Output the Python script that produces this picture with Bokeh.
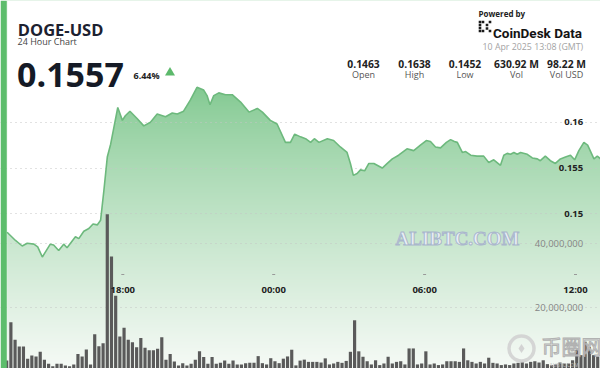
import numpy as np
import pandas as pd
from bokeh.plotting import figure
from bokeh.models import Range1d, Grid, FixedTicker, BoxAnnotation
from bokeh.core.properties import value
from bokeh.embed import file_html
from bokeh.resources import INLINE

# ---------------- data ----------------
symbol = "DOGE-USD"
subtitle = "24 Hour Chart"
last_price = "0.1557"
change_pct = "6.44%"
stat_values = ["0.1463", "0.1638", "0.1452", "630.92 M", "98.22 M"]
stat_labels = ["Open", "High", "Low", "Vol", "Vol USD"]
timestamp_text = "10 Apr 2025 13:08 (GMT)"

price_clock = [
    "13:24", "13:44", "14:00", "14:12", "14:28", "14:37", "14:48", "15:07", "15:15", "15:27",
    "15:39", "15:47", "16:07", "16:15", "16:27", "16:39", "16:49", "16:59", "17:07", "17:15",
    "17:23", "17:31", "17:39", "17:48", "17:59", "18:06", "18:17", "18:34", "18:50", "19:06",
    "19:22", "19:42", "19:58", "20:10", "20:25", "20:41", "20:57", "21:13", "21:21", "21:28",
    "21:37", "21:49", "22:05", "22:21", "22:41", "23:01", "23:21", "23:33", "23:52", "00:08",
    "00:28", "00:40", "00:50", "01:04", "01:16", "01:28", "01:37", "01:48", "02:08", "02:23",
    "02:39", "02:55", "03:03", "03:10", "03:19", "03:27", "03:37", "03:47", "03:59", "04:19",
    "04:31", "04:43", "04:58", "05:18", "05:34", "05:50", "06:04", "06:14", "06:26", "06:38",
    "06:52", "07:02", "07:11", "07:18", "07:30", "07:38", "07:50", "08:05", "08:21", "08:33",
    "08:45", "09:01", "09:09", "09:17", "09:25", "09:33", "09:41", "09:49", "10:05", "10:17",
    "10:29", "10:36", "10:48", "11:00", "11:12", "11:24", "11:36", "11:48", "11:58", "12:08",
    "12:20", "12:29", "12:44", "12:52", "13:00", "13:08",
]
price_values = [
    0.1480, 0.1471, 0.1465, 0.1468, 0.1467, 0.1464, 0.1453, 0.1467, 0.1466, 0.1460,
    0.1467, 0.1463, 0.1475, 0.1473, 0.1481, 0.1484, 0.1489, 0.1488, 0.1493, 0.1526,
    0.1562, 0.1576, 0.1595, 0.1616, 0.1602, 0.1607, 0.1612, 0.1604, 0.1596, 0.1600,
    0.1609, 0.1606, 0.1610, 0.1609, 0.1612, 0.1624, 0.1638, 0.1635, 0.1629, 0.1619,
    0.1629, 0.1632, 0.1630, 0.1630, 0.1622, 0.1611, 0.1615, 0.1611, 0.1602, 0.1598,
    0.1578, 0.1578, 0.1587, 0.1584, 0.1582, 0.1578, 0.1582, 0.1578, 0.1582, 0.1580,
    0.1573, 0.1567, 0.1555, 0.1542, 0.1544, 0.1548, 0.1547, 0.1555, 0.1555, 0.1550,
    0.1555, 0.1560, 0.1564, 0.1571, 0.1569, 0.1575, 0.1580, 0.1579, 0.1573, 0.1572,
    0.1578, 0.1581, 0.1579, 0.1578, 0.1567, 0.1568, 0.1564, 0.1563, 0.1563, 0.1556,
    0.1559, 0.1553, 0.1564, 0.1566, 0.1565, 0.1567, 0.1565, 0.1567, 0.1565, 0.1561,
    0.1560, 0.1558, 0.1563, 0.1558, 0.1555, 0.1560, 0.1562, 0.1564, 0.1559, 0.1569,
    0.1578, 0.1575, 0.1560, 0.1563, 0.1560, 0.1557,
]

volume_start = "2025-04-09 13:18"   # 10-minute volume buckets
volume_millions = [
    3.5, 15.5, 10.0, 7.9, 7.9, 4.1, 5.1, 4.8, 6.3, 3.8,
    2.5, 1.75, 2.5, 2.5, 2.0, 1.75, 2.3, 5.6, 4.8, 7.0,
    2.3, 11.7, 8.0, 8.9, 49.2, 36.0, 23.8, 11.0, 13.75, 10.0,
    9.25, 7.7, 10.6, 7.5, 6.7, 6.7, 7.2, 10.8, 3.75, 5.6,
    3.2, 2.0, 2.7, 2.0, 2.5, 3.75, 6.4, 4.6, 2.5, 4.6,
    2.5, 2.8, 3.5, 2.5, 3.5, 2.3, 2.3, 2.7, 2.8, 2.8,
    4.9, 2.7, 2.3, 4.25, 3.3, 2.7, 4.1, 4.8, 6.9, 2.0,
    3.5,
    3.8, 3.1, 3.1, 3.1, 2.9, 4.2, 2.3, 2.6, 3.1, 2.8,
    3.4, 6.25, 16.1, 6.4, 4.7, 3.3, 2.3, 3.6, 2.1, 2.6,
    4.7, 2.6, 3.1, 3.3, 2.3, 7.3, 7.3, 2.3, 2.6, 6.4,
    2.3, 2.6, 2.1, 2.3, 3.3, 3.3, 3.3, 3.1, 7.3, 3.6,
    3.1, 2.6, 3.1, 2.6, 4.4, 2.8, 2.6, 2.1, 2.3, 2.1,
    2.6, 2.8, 3.1, 2.6, 3.1, 3.3, 2.9, 3.6, 2.4, 2.1,
    2.3, 2.9, 2.6, 2.6, 3.6, 6.75, 5.2, 9.4, 7.8, 5.2,
    4.7, 3.9,
]

time_ticks = ["2025-04-09 18:00", "2025-04-10 00:00", "2025-04-10 06:00", "2025-04-10 12:00"]
time_tick_labels = ["18:00", "00:00", "06:00", "12:00"]
price_ticks = [0.16, 0.155, 0.15]
price_tick_labels = ["0.16", "0.155", "0.15"]
volume_ticks = [40_000_000, 20_000_000]
volume_tick_labels = ["40,000,000", "20,000,000"]

# ---------------- helpers ----------------
def to_ms(ts):
    return pd.Timestamp(ts).timestamp() * 1000.0

def clock_to_ms(clocks, day0="2025-04-09"):
    out, day, prev = [], pd.Timestamp(day0), None
    for c in clocks:
        h, m = map(int, c.split(":"))
        mins = h * 60 + m
        if prev is not None and mins < prev:
            day = day + pd.Timedelta(days=1)
        prev = mins
        out.append((day + pd.Timedelta(minutes=mins)).timestamp() * 1000.0)
    return out

W, H = 600, 368
MS_PER_PX = 3600000.0 / 25.15
x_start = to_ms("2025-04-09 18:00") - 122.3 * MS_PER_PX
x_end = x_start + W * MS_PER_PX
PX_PER_PRICE = 9170.0
p_top = 0.16 + 121.7 / PX_PER_PRICE
p_bot = p_top - H / PX_PER_PRICE
VOL_PER_PX = 20e6 / 64.0
v_bot = (371.3 - H) * VOL_PER_PX
v_top = 371.3 * VOL_PER_PX

def X(px):
    return x_start + px * MS_PER_PX

def Y(py):
    return p_top - py / PX_PER_PRICE

FONT = value("Open Sans")

price_x = clock_to_ms(price_clock)
vol_x = [t.timestamp() * 1000.0 + 5 * 60000.0
         for t in pd.date_range(volume_start, periods=len(volume_millions), freq="10min")]
vol_top = [v * 1e6 for v in volume_millions]
tick_x = [to_ms(t) for t in time_ticks]

# ---------------- figure ----------------
p = figure(width=W, height=H, x_range=Range1d(x_start, x_end), y_range=Range1d(p_bot, p_top),
           x_axis_type=None, y_axis_type=None, toolbar_location=None, output_backend="svg",
           min_border=0, title=None)
p.outline_line_color = None
p.background_fill_color = "white"
p.border_fill_color = "white"
p.extra_y_ranges = {"vol": Range1d(v_bot, v_top)}

# gradient fill under the price line
rows = H
img = np.empty((rows, 1), dtype=np.uint32)
view = img.view(dtype=np.uint8).reshape((rows, 1, 4))
c_top = np.array([128, 200, 143], dtype=float)
c_bot = np.array([246, 250, 246], dtype=float)
for i in range(rows):
    py = H - (i + 0.5)
    f = min(max((py - 85.0) / (H - 85.0), 0.0), 1.0) ** 0.8
    c = c_top + (c_bot - c_top) * f
    view[i, 0, 0:3] = c.astype(np.uint8)
    view[i, 0, 3] = 255
g = p.image_rgba(image=[img], x=price_x[0], y=p_bot, dw=price_x[-1] - price_x[0], dh=p_top - p_bot)
g.level = "image"
mask = p.varea(x=price_x, y1=price_values, y2=p_top, fill_color="white")
mask.level = "image"

# grid lines
grid_style = dict(grid_line_color="#c4c4c4", grid_line_dash="1 4", grid_line_width=1)
p.add_layout(Grid(dimension=1, ticker=FixedTicker(ticks=price_ticks), **grid_style))
p.add_layout(Grid(dimension=1, ticker=FixedTicker(ticks=volume_ticks), y_range_name="vol", **grid_style))

# price line
p.line(x=price_x, y=price_values, line_color="#6db97d", line_width=1.6)

# volume bars
p.vbar(x=vol_x, top=vol_top, bottom=0, width=7.6 * 60000, y_range_name="vol",
       fill_color="#5a5a5a", line_color=None)

# watermarks
p.text(x=[X(395)], y=[Y(237.5)], text=["ALIBTC.COM"], text_font=value("Liberation Serif"),
       text_font_style="bold", text_font_size="19px", text_color="#e9eef6",
       text_outline_color="#aab7cc", text_align="left", text_baseline="alphabetic")
p.scatter(x=[X(521)], y=[Y(348)], marker="circle", size=25, fill_color=None,
          line_color="#d2d2d2", line_width=3.5, line_alpha=0.9)
p.scatter(x=[X(521)], y=[Y(348)], marker="diamond", size=9, fill_color="#cfcfcf",
          line_color=None, fill_alpha=0.9)
p.text(x=[X(541)], y=[Y(346)], text=["币圈网"], text_font=value("Noto Sans CJK SC"),
       text_font_size="20px", text_color="#e2e2e2", text_alpha=0.9, text_outline_color="#aaaaaa",
       text_align="left", text_baseline="middle")
p.text(x=[X(549)], y=[Y(364)], text=["ALIBTC.COM"], text_font=FONT, text_font_size="5px",
       text_color="#bbbbbb", text_align="left", text_baseline="alphabetic")

# time tick marks and labels
p.scatter(x=tick_x, y=[Y(274)] * len(tick_x), marker="dash", size=3, line_color="#999999")
p.text(x=tick_x, y=[Y(288.5)] * len(tick_x), text=time_tick_labels, text_font=FONT,
       text_font_style="bold", text_font_size="9.5px", text_color="#222222",
       text_align="center", text_baseline="middle")

# price / volume labels
p.text(x=[X(582.7)] * len(price_ticks), y=price_ticks, text=price_tick_labels, text_font=FONT,
       text_font_style="bold", text_font_size="9.5px", text_color="#222222",
       text_align="right", text_baseline="middle")
p.text(x=[X(582.7)] * len(volume_ticks), y=volume_ticks, text=volume_tick_labels, text_font=FONT,
       text_font_size="9.5px", text_color="#858585", text_align="right", text_baseline="middle",
       y_range_name="vol")

# header: left
p.text(x=[X(17.3)], y=[Y(29)], text=[symbol], text_font=FONT, text_font_style="bold",
       text_font_size="16.5px", text_color="#1c2130", text_baseline="alphabetic")
p.text(x=[X(17)], y=[Y(40.5)], text=[subtitle], text_font=FONT, text_font_size="9px",
       text_color="#444444", text_baseline="alphabetic")
p.text(x=[X(16.5)], y=[Y(74)], text=[last_price], text_font=FONT, text_font_style="bold",
       text_font_size="34px", text_color="#151a26", text_baseline="alphabetic")
p.text(x=[X(133)], y=[Y(75)], text=[change_pct], text_font=FONT, text_font_style="bold",
       text_font_size="9px", text_color="#222222", text_baseline="alphabetic")
p.scatter(x=[X(169.5)], y=[Y(72.2)], marker="triangle", size=10, fill_color="#5cb96b",
          line_color=None)

# header: right
p.text(x=[X(478)], y=[Y(12.5)], text=["Powered by"], text_font=FONT, text_font_style="bold",
       text_font_size="8px", text_color="#222222", text_baseline="alphabetic")
icon_px = [479.5, 479.5, 479.5, 479.5, 482.5, 482.5, 486.5, 486.5, 489.5, 489.5]
icon_py = [21.5, 24.5, 27.5, 30.5, 21.5, 30.5, 24.5, 28.0, 21.5, 30.5]
p.scatter(x=[X(v) for v in icon_px], y=[Y(v) for v in icon_py], marker="square", size=2.6,
          fill_color="#1a1a1a", line_color=None)
p.text(x=[X(492.5)], y=[Y(32)], text=["CoinDesk Data"], text_font=value("Roboto"),
       text_font_style="bold", text_font_size="13.5px", text_color="#141414",
       text_baseline="alphabetic")
p.text(x=[X(582.7)], y=[Y(46.5)], text=[timestamp_text], text_font=FONT, text_font_size="8.8px",
       text_color="#a3a3a3", text_align="right", text_baseline="alphabetic")

stat_cx = [363, 414, 464.5, 516, 566]
p.text(x=[X(v) for v in stat_cx], y=[Y(63)] * 5, text=stat_values, text_font=FONT,
       text_font_style="bold", text_font_size="10.3px", text_color="#222222",
       text_align="center", text_baseline="alphabetic")
p.text(x=[X(v) for v in stat_cx], y=[Y(73.5)] * 5, text=stat_labels, text_font=FONT,
       text_font_size="9px", text_color="#555555", text_align="center", text_baseline="alphabetic")

# left accent bar
p.add_layout(BoxAnnotation(left=0, right=6.3, left_units="screen", right_units="screen",
                           fill_color="#5dbd6c", fill_alpha=1.0, line_color=None))

open("out.html", "w").write(file_html(p, INLINE))
